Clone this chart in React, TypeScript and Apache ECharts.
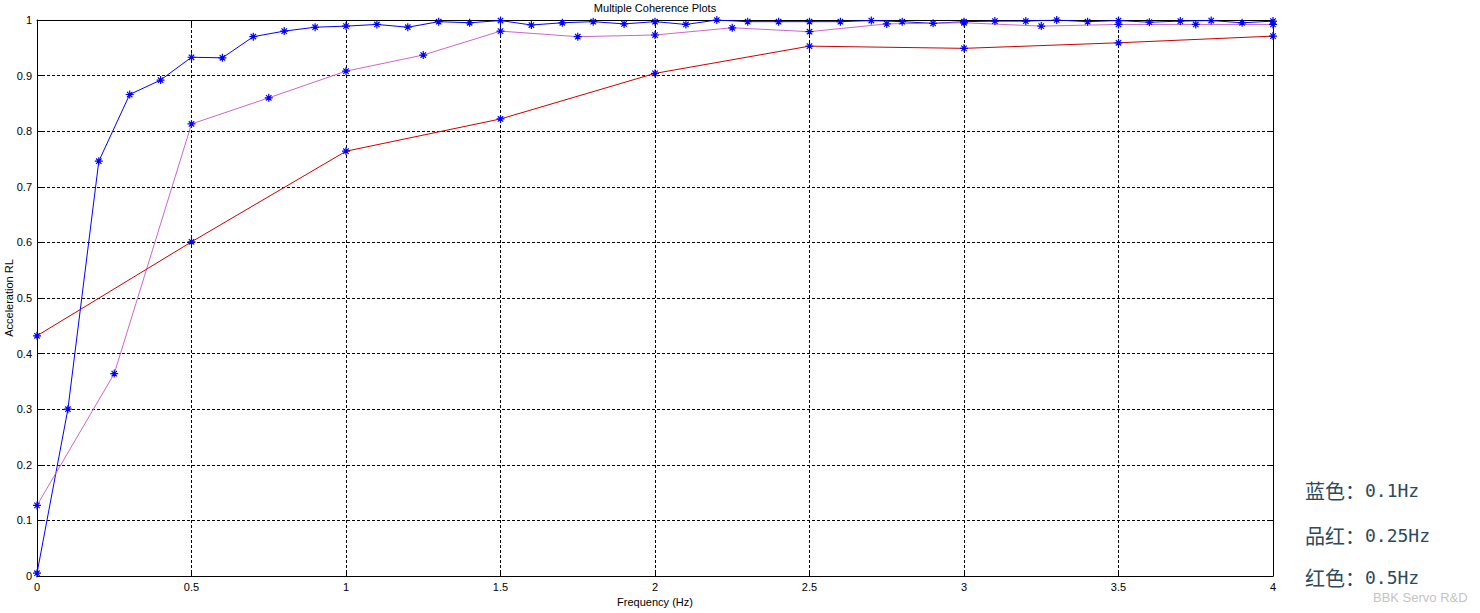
import React, { useEffect, useRef } from "react";
import * as echarts from "echarts";

const blueX = [0, 0.1, 0.2, 0.3, 0.4, 0.5, 0.6, 0.7, 0.8, 0.9, 1.0, 1.1, 1.2, 1.3, 1.4, 1.5, 1.6, 1.7, 1.8, 1.9, 2.0, 2.1, 2.2, 2.3, 2.4, 2.5, 2.6, 2.7, 2.8, 2.9, 3.0, 3.1, 3.2, 3.3, 3.4, 3.5, 3.6, 3.7, 3.8, 3.9, 4.0];
const blueY = [0.005, 0.30, 0.746, 0.866, 0.892, 0.933, 0.932, 0.970, 0.980, 0.987, 0.989, 0.992, 0.987, 0.997, 0.995, 0.999, 0.991, 0.995, 0.997, 0.993, 0.997, 0.992, 1.0, 0.997, 0.997, 0.997, 0.997, 0.999, 0.997, 0.994, 0.997, 0.998, 0.998, 1.0, 0.997, 0.999, 0.996, 0.998, 0.999, 0.995, 0.998];

const magentaX = [0, 0.25, 0.5, 0.75, 1.0, 1.25, 1.5, 1.75, 2.0, 2.25, 2.5, 2.75, 3.0, 3.25, 3.5, 3.75, 4.0];
const magentaY = [0.127, 0.364, 0.813, 0.860, 0.908, 0.937, 0.980, 0.970, 0.973, 0.986, 0.979, 0.993, 0.995, 0.989, 0.992, 0.992, 0.992];

const redX = [0, 0.5, 1.0, 1.5, 2.0, 2.5, 3.0, 3.5, 4.0];
const redY = [0.432, 0.601, 0.764, 0.822, 0.904, 0.953, 0.949, 0.959, 0.971];

const legendNames = ["蓝色：", "品红：", "红色："];
const legendFreqs = ["0.1Hz", "0.25Hz", "0.5Hz"];

const STAR = "path://M4,0L4,8M0,4L8,4M1.3,1.3L6.7,6.7M1.3,6.7L6.7,1.3";
const FONT = "Liberation Sans";

function zip(xs: number[], ys: number[]) {
  return xs.map((x, i) => [x, ys[i]]);
}

function fmt(v: number) {
  return String(parseFloat(v.toFixed(2)));
}

export default function App() {
  const ref = useRef<HTMLDivElement>(null);
  useEffect(() => {
    if (!ref.current) return;
    const chart = echarts.init(ref.current, null, { renderer: "svg" });
    const lbl = { color: "#000", fontFamily: FONT, fontSize: 11 };
    const mkSeries = (name: string, xs: number[], ys: number[], color: string) => ({
      name,
      type: "line",
      data: zip(xs, ys),
      symbol: STAR,
      symbolSize: 8,
      showSymbol: true,
      lineStyle: { color, width: 1 },
      itemStyle: { color: "#0000ff", borderColor: "#0000ff", borderWidth: 1.2 },
      emphasis: { disabled: true },
      z: 3,
    });
    chart.setOption({
      animation: false,
      backgroundColor: "#ffffff",
      grid: { left: 37, right: 207, top: 20, bottom: 37, show: false, containLabel: false, outerBoundsMode: "none" },
      xAxis: [
        {
          type: "value",
          min: 0,
          max: 4,
          interval: 0.5,
          name: "Frequency (Hz)",
          nameLocation: "middle",
          nameGap: 18,
          nameTextStyle: { ...lbl },
          axisLine: { show: true, onZero: false, lineStyle: { color: "#000", width: 1 } },
          axisTick: { show: true, inside: true, length: 5, lineStyle: { color: "#000" } },
          axisLabel: { ...lbl, margin: 5, formatter: (v: number) => fmt(v) },
          splitLine: { show: true, lineStyle: { color: "#000", type: [3, 2], width: 1 } },
        },
        {
          type: "value",
          position: "top",
          min: 0,
          max: 4,
          interval: 0.5,
          axisLine: { show: true, onZero: false, lineStyle: { color: "#000", width: 1 } },
          axisTick: { show: true, inside: true, length: 5, lineStyle: { color: "#000" } },
          axisLabel: { show: false },
          splitLine: { show: false },
        },
      ],
      yAxis: [
        {
          type: "value",
          min: 0,
          max: 1,
          interval: 0.1,
          axisLine: { show: true, onZero: false, lineStyle: { color: "#000", width: 1 } },
          axisTick: { show: true, inside: true, length: 5, lineStyle: { color: "#000" } },
          axisLabel: { ...lbl, margin: 5, formatter: (v: number) => fmt(v) },
          splitLine: { show: true, lineStyle: { color: "#000", type: [3, 2], width: 1 } },
        },
        {
          type: "value",
          position: "right",
          min: 0,
          max: 1,
          interval: 0.1,
          axisLine: { show: true, onZero: false, lineStyle: { color: "#000", width: 1 } },
          axisTick: { show: true, inside: true, length: 5, lineStyle: { color: "#000" } },
          axisLabel: { show: false },
          splitLine: { show: false },
        },
      ],
      series: [
        mkSeries("0.1Hz", blueX, blueY, "#0000ff"),
        mkSeries("0.25Hz", magentaX, magentaY, "#cc66cc"),
        mkSeries("0.5Hz", redX, redY, "#cc0000"),
      ],
      graphic: [
        {
          type: "text",
          x: 655,
          y: 8,
          style: {
            text: "Multiple Coherence Plots",
            fill: "#000",
            font: `11px "${FONT}"`,
            textAlign: "center",
            textVerticalAlign: "middle",
          },
        },
        {
          type: "text",
          x: 9,
          y: 298,
          rotation: Math.PI / 2,
          style: {
            text: "Acceleration RL",
            fill: "#000",
            font: `11px "${FONT}"`,
            textAlign: "center",
            textVerticalAlign: "middle",
          },
        },
        ...legendNames.map((t, i) => ({
          type: "text",
          x: 1305,
          y: [490, 535, 577][i],
          style: {
            text: `{a|${t}}{b|${legendFreqs[i]}}`,
            rich: {
              a: { fill: "#2c4a5c", font: `20px "Noto Sans CJK SC"`, lineHeight: 22 },
              b: { fill: "#2c4a5c", font: `18px "DejaVu Sans Mono"`, lineHeight: 22 },
            },
            textAlign: "left",
            textVerticalAlign: "middle",
          },
        })),
        {
          type: "text",
          x: 1373,
          y: 597,
          style: {
            text: "BBK Servo R&D",
            fill: "#c4c4c4",
            font: `13px "${FONT}"`,
            textAlign: "left",
            textVerticalAlign: "middle",
          },
        },
      ],
    });
    return () => chart.dispose();
  }, []);
  return (
    <div
      ref={ref}
      style={{ position: "fixed", left: 0, top: 0, width: 1480, height: 613, background: "#fff" }}
    />
  );
}
